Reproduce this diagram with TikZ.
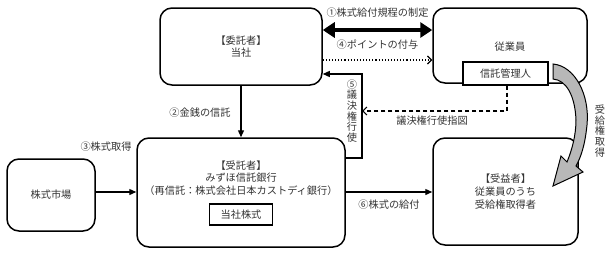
\documentclass[tikz,border=0pt]{standalone}
\usepackage{fontspec}
\setmainfont{Noto Sans CJK JP}
\usetikzlibrary{arrows.meta}
\begin{document}
\begin{tikzpicture}[x=1pt,y=-1pt,
  txt/.style={text=black!80,font=\fontsize{10.2pt}{12.8pt}\selectfont,inner sep=0pt,align=center},
  rbox/.style={draw,line width=1.5pt,rounded corners=12pt,txt,fill=white},
  sbox/.style={draw,line width=1.2pt,txt,fill=white},
  arr/.style={line width=1.3pt,-{Triangle[length=7pt,width=6pt]}},
  vtxt/.style={text=black!80,font=\fontsize{10.2pt}{10.6pt}\selectfont,inner sep=0pt,align=center}]
\useasboundingbox (0,0) rectangle (611,252);
% boxes
\node[rbox,minimum width=162pt,minimum height=77pt] (itaku) at (241,46.5) {【委託者】\\当社};
\node[rbox,minimum width=154pt,minimum height=75pt,text depth=0pt] (jugyo) at (510,45.5) {};
\node[txt] (jugyot) at (510,47) {従業員};
\node[sbox,minimum width=85pt,minimum height=23pt] (kanri) at (505.5,73.5) {信託管理人};
\node[rbox,minimum width=208pt,minimum height=109pt] (jutaku) at (241,192.5) {};
\node[txt] (jutakut) at (241,178) {【受託者】\\みずほ信託銀行\\（再信託：株式会社日本カストディ銀行）};
\node[sbox,minimum width=63pt,minimum height=21pt] (tosha) at (241,214.5) {当社株式};
\node[rbox,minimum width=88pt,minimum height=72pt] (market) at (51,195) {株式市場};
\node[rbox,minimum width=145pt,minimum height=107pt] (jueki) at (505.5,191.5) {【受益者】\\従業員のうち\\受給権取得者};
% coordinates
\coordinate (c5a) at (362,158);
\coordinate (c5b) at (362,74);
\coordinate (cda) at (507,111);
\coordinate (cdb) at (362,111);
% arrow 1: double thick
\draw[line width=4.5pt,{Triangle[length=12pt,width=15pt]}-{Triangle[length=12pt,width=15pt]}] (itaku.east |- 0,30) -- (jugyo.west |- 0,30);
\node[txt] (l1) at (377.5,13) {①株式給付規程の制定};
% arrow 4: dotted
\draw[line width=1.1pt,dotted,-{Straight Barb[length=4pt,width=8pt]}] (itaku.east |- 0,60) -- (jugyo.west |- 0,60);
\node[txt] (l4) at (377.5,45) {④ポイントの付与};
% arrow 5
\draw[arr] (jutaku.east |- c5a) -- (c5a) -- (c5b) -- (itaku.east |- c5b);
\node[vtxt] (l5) at (352,111) {⑤\\議\\決\\権\\行\\使};
% dashed instruction
\draw[line width=1.2pt,dash pattern=on 4pt off 3pt,-{Straight Barb[length=4pt,width=8pt]}] (kanri.south -| cda) -- (cda) -- (cdb);
\node[txt] (ld) at (432,121) {議決権行使指図};
% arrow 2
\draw[arr] (itaku.south) -- (jutaku.north);
\node[txt] (l2) at (200,113) {②金銭の信託};
% arrow 3
\draw[arr] (market.east |- 0,192) -- (jutaku.west |- 0,192);
\node[txt] (l3) at (106,147) {③株式取得};
% arrow 6
\draw[arr] (jutaku.east |- 0,192) -- (jueki.west |- 0,192);
\node[txt] (l6) at (389,205) {⑥株式の給付};
% curved gray arrow
\draw[fill=black!28,line width=1pt,line join=miter]
  (553,64) .. controls (575,66) and (590,95) .. (587,125)
  .. controls (585,145) and (581,157) .. (576,166)
  -- (583,172) -- (553,186) -- (561,156) -- (567,162)
  .. controls (572,150) and (576,135) .. (576,120)
  .. controls (575,95) and (566,80) .. (553,79) -- cycle;
\node[vtxt] (lr) at (600,131) {受\\給\\権\\取\\得};
\end{tikzpicture}
\end{document}
